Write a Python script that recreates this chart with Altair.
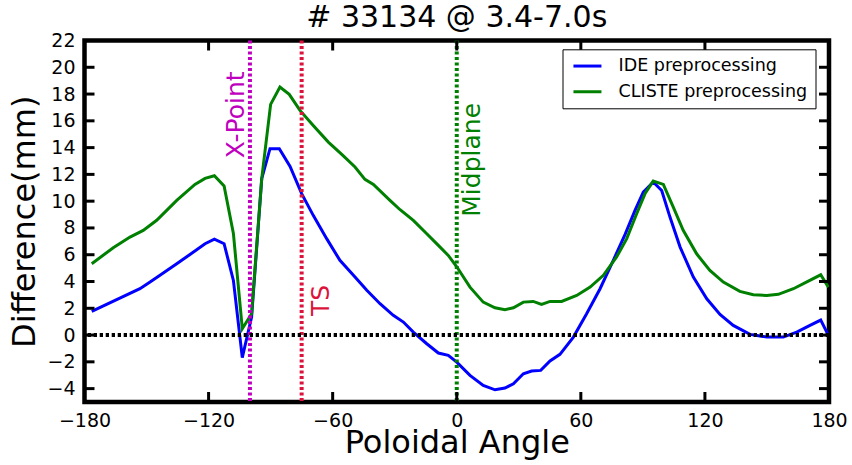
import altair as alt
import pandas as pd

# ---- data ----
ide_angle = [-176.5, -153.2, -148.3, -143.5, -135.4, -129.0, -121.7, -117.2, -112.5, -108.0,
             -103.7, -99.2, -94.3, -90.3, -85.8, -80.6, -75.0, -69.4, -62.9, -56.5,
             -49.2, -43.5, -37.1, -30.7, -25.8, -21.0, -14.5, -8.9, -4.1, 0.0,
             6.4, 12.8, 18.5, 23.3, 27.4, 32.2, 36.2, 40.6, 45.1, 49.9,
             56.4, 62.8, 69.3, 75.7, 81.4, 86.2, 90.2, 95.0, 99.1, 103.1,
             108.0, 114.4, 120.9, 127.3, 133.7, 141.8, 149.9, 157.9, 164.4, 170.8,
             176.0, 179.7]
ide_diff = [1.77, 3.46, 3.96, 4.46, 5.33, 6.02, 6.82, 7.17, 6.82, 4.08,
            -1.69, 1.34, 11.68, 13.92, 13.92, 12.6, 10.56, 8.94, 7.2, 5.58,
            4.33, 3.34, 2.34, 1.47, 0.97, 0.22, -0.65, -1.34, -1.52, -2.02,
            -3.01, -3.76, -4.09, -3.96, -3.64, -2.89, -2.69, -2.64, -1.94, -1.44,
            -0.15, 1.59, 3.46, 5.58, 7.52, 9.31, 10.68, 11.43, 10.8, 8.81,
            6.57, 4.33, 2.71, 1.54, 0.72, 0.05, -0.15, -0.15, 0.22, 0.72,
            1.12, -0.02]

cliste_angle = [-176.5, -166.1, -158.0, -151.6, -145.1, -135.4, -126.6, -121.7, -117.2, -112.5,
                -108.0, -103.7, -99.2, -94.3, -90.0, -85.5, -81.0, -75.8, -69.4, -62.1,
                -55.6, -49.2, -44.4, -40.3, -32.3, -27.4, -21.0, -14.5, -8.9, -4.1,
                0.0, 6.4, 12.8, 18.5, 23.3, 27.4, 32.2, 37.0, 41.0, 45.1,
                50.7, 58.0, 64.5, 70.9, 77.3, 82.2, 87.0, 91.0, 95.0, 99.9,
                104.7, 109.5, 116.0, 122.4, 128.9, 136.9, 143.4, 149.9, 155.5, 162.8,
                170.0, 176.0, 179.7]
cliste_diff = [5.33, 6.52, 7.32, 7.82, 8.57, 10.06, 11.25, 11.7, 11.9, 11.13,
               7.59, 0.47, 1.59, 11.68, 17.23, 18.52, 17.98, 16.78, 15.66, 14.41,
               13.49, 12.55, 11.63, 11.25, 10.06, 9.36, 8.56, 7.57, 6.7, 5.95,
               5.1, 3.58, 2.46, 2.04, 1.89, 2.04, 2.46, 2.51, 2.29, 2.51,
               2.51, 2.96, 3.58, 4.46, 5.83, 7.2, 9.06, 10.55, 11.5, 11.25,
               9.56, 7.82, 6.07, 4.83, 3.96, 3.26, 3.01, 2.96, 3.04, 3.46,
               4.03, 4.5, 3.58]

series_names = ["IDE preprocessing", "CLISTE preprocessing"]
series_colors = ["#0000FF", "#008000"]

marker_names = ["X-Point", "TS", "Midplane"]
marker_angle = [-100, -75, 0]
marker_colors = ["#BF00BF", "#DC143C", "#008000"]
# label anchors (data coordinates)
label_angle = [-102.9, -61.8, 11.2]
label_diff = [13.2, 1.43, 8.84]

x_tick_values = [-180, -120, -60, 0, 60, 120, 180]
x_inner_ticks = [-120, -60, 0, 60, 120]
y_tick_values = list(range(-4, 23, 2))

W = 744.5
H = 361.5
TL = 10
FONT = "DejaVu Sans"
TICKFS = 19

df = pd.concat([
    pd.DataFrame({"angle": ide_angle, "diff": ide_diff, "series": series_names[0], "order": range(len(ide_angle))}),
    pd.DataFrame({"angle": cliste_angle, "diff": cliste_diff, "series": series_names[1], "order": range(len(cliste_angle))}),
])

xscale = alt.Scale(domain=[-180, 180], nice=False, zero=False)
yscale = alt.Scale(domain=[-5, 22], nice=False, zero=False)

xaxis = alt.Axis(values=x_tick_values, title="Poloidal Angle", titleFontSize=32, titleFont=FONT,
                 titleFontWeight="normal", titleColor="black", titleY=50, titleX=W / 2,
                 titleBaseline="alphabetic", titleAlign="center",
                 labelFontSize=TICKFS, labelFont=FONT, labelColor="black", labelPadding=9,
                 ticks=False, tickSize=0, domain=False, grid=False, labelFlush=False,
                 labelOverlap=False, format="d")
yaxis = alt.Axis(values=y_tick_values, title="Difference(mm)", titleFontSize=32, titleFont=FONT,
                 titleFontWeight="normal", titleColor="black", titleX=-50, titleY=H / 2,
                 titleBaseline="alphabetic", titleAlign="center", titleAngle=270,
                 labelFontSize=TICKFS, labelFont=FONT, labelColor="black", labelPadding=9.5,
                 ticks=False, tickSize=0, domain=False, grid=False, labelOverlap=False, format="d")


def X(field):
    return alt.X(field, type="quantitative", scale=xscale, axis=xaxis, title="Poloidal Angle")


def Y(field):
    return alt.Y(field, type="quantitative", scale=yscale, axis=yaxis, title="Difference(mm)")


lines = alt.Chart(df).mark_line(strokeWidth=3, clip=True).encode(
    x=X("angle"),
    y=Y("diff"),
    order="order:Q",
    color=alt.Color("series:N", scale=alt.Scale(domain=series_names, range=series_colors),
                    legend=alt.Legend(orient="none", legendX=478, legendY=8.8, title=None,
                                      symbolType="M-2,0L2,0", symbolSize=196, symbolStrokeWidth=3,
                                      labelFontSize=17.5, labelFont=FONT, labelColor="black",
                                      padding=8, rowPadding=6.7, labelOffset=22.4, symbolOffset=8.2,
                                      strokeColor="black", fillColor="white", cornerRadius=0,
                                      labelLimit=400)),
)

layers = [lines]
for name, ang, col, la, ld in zip(marker_names, marker_angle, marker_colors, label_angle, label_diff):
    mdf = pd.DataFrame({"angle": [ang], "name": [name], "la": [la], "ld": [ld]})
    layers.append(alt.Chart(mdf).mark_rule(color=col, strokeWidth=4, strokeDash=[3, 2.5]).encode(
        x=X("angle")))
    layers.append(alt.Chart(mdf).mark_text(color=col, fontSize=25, font=FONT, angle=270,
                                           align="left", baseline="alphabetic").encode(
        x=X("la"), y=Y("ld"), text="name:N"))

zero_df = pd.DataFrame({"v": [0]})
layers.append(alt.Chart(zero_df).mark_rule(color="black", strokeWidth=4, strokeDash=[3.3, 2.7]).encode(
    y=Y("v")))

ydf = pd.DataFrame({"v": y_tick_values})
xdf = pd.DataFrame({"v": x_inner_ticks})
layers.append(alt.Chart(ydf).mark_rule(color="black", strokeWidth=3).encode(
    y=Y("v"), x=alt.value(0), x2=alt.value(TL)))
layers.append(alt.Chart(ydf).mark_rule(color="black", strokeWidth=3).encode(
    y=Y("v"), x=alt.value(W - TL), x2=alt.value(W)))
layers.append(alt.Chart(xdf).mark_rule(color="black", strokeWidth=3).encode(
    x=X("v"), y=alt.value(0), y2=alt.value(TL)))
layers.append(alt.Chart(xdf).mark_rule(color="black", strokeWidth=3).encode(
    x=X("v"), y=alt.value(H - TL), y2=alt.value(H)))

chart = alt.layer(*layers).properties(
    width=W, height=H,
    autosize=alt.AutoSizeParams(type="none"),
    padding={"left": 84.5, "top": 40.5, "right": 23, "bottom": 63},
    background="white",
    title=alt.TitleParams("# 33134 @ 3.4-7.0s", fontSize=30, font=FONT, fontWeight="normal",
                          color="black", anchor="middle", frame="group", baseline="alphabetic",
                          offset=-25),
).configure_view(stroke="black", strokeWidth=4.5)

chart.save("out.html", embed_options={"renderer": "svg", "actions": False})
